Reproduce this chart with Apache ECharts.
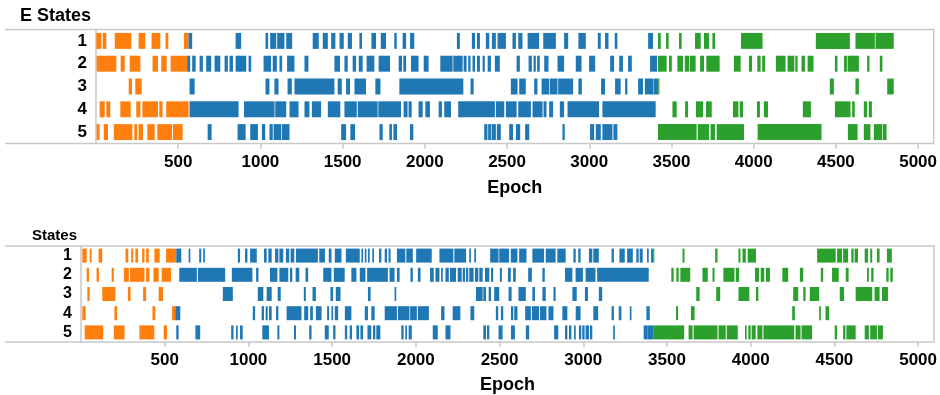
<!DOCTYPE html>
<html>
<head>
<meta charset="utf-8">
<script src="https://cdn.jsdelivr.net/npm/echarts@6/dist/echarts.min.js"></script>
<style>html,body{margin:0;padding:0;background:#fff}#c{width:940px;height:395px}</style>
</head>
<body>
<div id="c"></div>
<script>
// ---- data ----
const stateLabels = ['1', '2', '3', '4', '5'];
const xTickValues = [500, 1000, 1500, 2000, 2500, 3000, 3500, 4000, 4500, 5000];
const epochMax = 5095;

// Top panel "E States": per state, [start, end] epoch segments for each phase
const eOrange = [
  [[2,33],[41,63],[114,215],[259,300],[338,391],[423,440],[535,563]],
  [[4,124],[150,175],[205,270],[344,377],[397,430],[454,555]],
  [[199,219],[239,278]],
  [[22,53],[63,87],[148,211],[245,270],[282,377],[385,405],[427,563]],
  [[4,22],[47,73],[108,221],[233,251],[259,286],[312,357],[373,462],[468,527]]
];
const eBlue = [
  [[563,585],[849,883],[1031,1047],[1059,1096],[1102,1146],[1157,1193],[1318,1355],[1379,1410],[1430,1456],[1481,1507],[1531,1557],[1602,1618],[1675,1703],[1732,1764],[1814,1829],[1865,1886],[1910,1936],[2195,2213],[2286,2305],[2317,2335],[2371,2392],[2408,2432],[2442,2493],[2533,2554],[2568,2594],[2625,2695],[2720,2797],[2847,2872],[2934,2979],[3052,3070],[3096,3117],[3155,3171],[3358,3388]],
  [[555,573],[585,606],[630,650],[670,701],[721,756],[782,802],[812,833],[849,914],[928,944],[1019,1065],[1075,1100],[1116,1132],[1162,1207],[1268,1292],[1450,1484],[1511,1531],[1561,1582],[1598,1622],[1646,1693],[1719,1788],[1841,1861],[1869,1886],[1916,1962],[1993,2023],[2094,2169],[2173,2230],[2236,2254],[2264,2278],[2290,2305],[2317,2335],[2351,2365],[2382,2402],[2426,2456],[2558,2578],[2631,2651],[2661,2675],[2683,2699],[2726,2752],[2807,2847],[2918,2953],[2999,3036],[3127,3151],[3182,3205],[3236,3259],[3370,3412]],
  [[569,600],[1031,1055],[1085,1110],[1165,1191],[1207,1450],[1470,1495],[1521,1545],[1572,1642],[1699,1730],[1845,2234],[2278,2297],[2523,2564],[2574,2614],[2665,2685],[2710,2756],[2760,2807],[2811,2902],[2934,2955],[3072,3096],[3157,3191],[3218,3232],[3297,3327],[3338,3390],[3392,3420]],
  [[569,867],[900,1086],[1090,1157],[1177,1232],[1268,1298],[1313,1369],[1410,1486],[1511,1586],[1592,1713],[1717,1855],[1871,1895],[1901,1920],[1962,1987],[2003,2031],[2084,2104],[2118,2159],[2203,2426],[2432,2483],[2493,2558],[2568,2645],[2655,2716],[2722,2740],[2756,2780],[2821,2847],[2868,3060],[3080,3404]],
  [[679,703],[861,910],[938,985],[1009,1029],[1055,1075],[1080,1126],[1130,1177],[1491,1521],[1547,1576],[1724,1744],[1784,1800],[1809,1831],[1910,1930],[2361,2381],[2385,2402],[2406,2432],[2438,2462],[2513,2537],[2554,2580],[2610,2635],[2837,2851],[3005,3030],[3040,3070],[3080,3141],[3147,3171]]
];
const eGreen = [
  [[3418,3435],[3467,3483],[3546,3562],[3643,3678],[3698,3728],[3749,3765],[3923,4054],[4378,4585],[4619,4737],[4741,4852]],
  [[3418,3471],[3485,3502],[3536,3570],[3581,3607],[3611,3647],[3674,3698],[3712,3793],[3880,3921],[3971,3990],[4022,4042],[4052,4069],[4135,4194],[4206,4247],[4253,4267],[4291,4312],[4328,4364],[4494,4510],[4549,4567],[4571,4640],[4690,4704],[4767,4783]],
  [[3420,3427],[4463,4488],[4619,4640],[4812,4852]],
  [[3506,3532],[3583,3601],[3649,3692],[3710,3745],[3874,3907],[3915,3935],[4020,4038],[4062,4087],[4299,4348],[4494,4589],[4599,4615],[4670,4690],[4700,4719]],
  [[3418,3653],[3660,3728],[3738,3765],[3775,3941],[4024,4413],[4573,4632],[4670,4710],[4731,4781],[4785,4808]]
];

// Bottom panel "States"
const sOrange = [
  [[8,34],[52,63],[105,127],[266,282],[300,312],[325,341],[365,379],[389,405],[438,470],[508,569]],
  [[34,48],[93,107],[183,196],[256,286],[292,379],[389,409],[433,464],[482,538]],
  [[38,52],[127,206],[280,296],[371,389],[464,490]],
  [[8,28],[200,216],[427,444],[544,563]],
  [[22,133],[196,260],[349,438],[494,514]]
];
const sBlue = [
  [[569,599],[643,653],[706,718],[730,740],[937,950],[980,994],[1010,1050],[1093,1109],[1119,1139],[1159,1179],[1185,1208],[1224,1244],[1252,1274],[1284,1415],[1423,1457],[1480,1496],[1516,1556],[1582,1665],[1675,1685],[1695,1705],[1714,1724],[1740,1750],[1780,1794],[1814,1828],[1837,1849],[1887,1937],[1943,1982],[2002,2095],[2141,2224],[2230,2300],[2319,2329],[2349,2359],[2444,2494],[2498,2557],[2567,2607],[2617,2661],[2696,2766],[2776,2835],[2845,2895],[2941,2955],[2970,2984],[3034,3054],[3060,3093],[3169,3183],[3216,3248],[3262,3296],[3317,3331],[3337,3355],[3381,3391],[3405,3419]],
  [[587,692],[698,861],[901,1024],[1046,1060],[1129,1173],[1185,1238],[1248,1262],[1282,1304],[1341,1357],[1447,1496],[1510,1575],[1615,1645],[1665,1699],[1709,1833],[1843,1873],[1887,1903],[1968,1982],[2012,2028],[2085,2107],[2117,2141],[2151,2161],[2177,2197],[2204,2240],[2250,2274],[2280,2294],[2300,2313],[2319,2345],[2353,2373],[2379,2399],[2413,2439],[2449,2462],[2502,2514],[2550,2567],[2581,2597],[2671,2693],[2756,2770],[2891,2935],[2954,2998],[3014,3073],[3083,3391]],
  [[847,907],[1056,1089],[1109,1139],[1175,1193],[1331,1343],[1383,1403],[1490,1506],[1522,1550],[1714,1730],[1873,1883],[2359,2399],[2403,2419],[2435,2449],[2468,2498],[2554,2572],[2613,2657],[2696,2712],[2756,2776],[2822,2835],[2935,2961],[3010,3028],[3093,3113]],
  [[563,593],[1026,1040],[1079,1093],[1103,1115],[1123,1139],[1165,1179],[1228,1317],[1333,1357],[1369,1385],[1403,1437],[1470,1482],[1496,1506],[1516,1536],[1576,1615],[1695,1714],[1734,1754],[1814,1887],[1893,1962],[1966,2006],[2012,2078],[2151,2171],[2220,2266],[2326,2349],[2478,2492],[2508,2522],[2568,2582],[2588,2607],[2653,2687],[2693,2736],[2742,2780],[2792,2822],[2875,2905],[2955,2984],[3060,3089],[3169,3183],[3212,3228],[3278,3288],[3377,3397]],
  [[569,583],[683,712],[897,911],[926,936],[950,966],[1083,1123],[1173,1185],[1272,1284],[1363,1377],[1456,1480],[1506,1520],[1576,1590],[1605,1619],[1645,1661],[1669,1685],[1711,1734],[1744,1758],[1764,1788],[1913,1927],[1937,1947],[1957,1976],[2101,2131],[2177,2207],[2403,2419],[2425,2439],[2494,2518],[2568,2592],[2657,2677],[2826,2851],[2891,2905],[2915,2929],[2945,2955],[2974,2988],[2994,3008],[3014,3034],[3040,3054],[3179,3189],[3361,3385],[3385,3421]]
];
const sGreen = [
  [[3419,3425],[3593,3605],[3788,3802],[3927,3939],[3951,3971],[3982,4032],[4397,4508],[4516,4546],[4552,4582],[4601,4615],[4621,4641],[4681,4701],[4714,4726],[4754,4770],[4814,4843]],
  [[3526,3540],[3556,3570],[3580,3639],[3712,3744],[3772,3784],[3837,3903],[3911,3931],[4026,4050],[4060,4081],[4091,4115],[4189,4224],[4294,4314],[4419,4433],[4486,4526],[4568,4585],[4695,4706],[4720,4734],[4810,4824],[4834,4849]],
  [[3675,3695],[3794,3818],[3927,3992],[4032,4046],[4254,4284],[4314,4328],[4353,4409],[4532,4558],[4627,4726],[4740,4770],[4784,4820]],
  [[3554,3566],[3643,3665],[4248,4264],[4409,4419],[4447,4468]],
  [[3421,3603],[3629,3653],[3659,3802],[3808,3851],[3857,3923],[3966,3976],[3986,4000],[4006,4030],[4040,4070],[4076,4260],[4268,4298],[4304,4367],[4502,4516],[4552,4566],[4572,4627],[4681,4706],[4714,4754],[4760,4790]]
];

// ---- chart ----
const FONT = 'Liberation Sans, Arial, Helvetica, sans-serif';
const COLORS = ['#ff7f0e', '#1f77b4', '#2ca02c'];
const LINE = '#c8c8c8';

function flatten(rows) {
  const out = [];
  rows.forEach((segs, r) => segs.forEach(s => out.push([r, s[0], s[1]])));
  return out;
}
function makeRender(frac) {
  return function (params, api) {
    const r = api.value(0), s = api.value(1), e = api.value(2);
    const p0 = api.coord([s, r]);
    const p1 = api.coord([e, r]);
    const h = api.size([0, 1])[1] * frac;
    return {
      type: 'rect',
      shape: { x: p0[0], y: p0[1] - h / 2, width: Math.max(p1[0] - p0[0], 1), height: h },
      style: { fill: api.visual('color') }
    };
  };
}
const grids = [
  { left: 96, top: 29.5, width: 839, height: 114 },
  { left: 81, top: 246, width: 854, height: 96 }
];
const panels = [[eOrange, eBlue, eGreen], [sOrange, sBlue, sGreen]];
const fracs = [0.7, 0.73];
const nameGaps = [36, 34];

const series = [];
panels.forEach((phases, gi) => {
  phases.forEach((rows, pi) => {
    series.push({
      type: 'custom',
      xAxisIndex: gi, yAxisIndex: gi,
      renderItem: makeRender(fracs[gi]),
      itemStyle: { color: COLORS[pi] },
      encode: { x: [1, 2], y: 0 },
      data: flatten(rows),
      silent: true
    });
  });
});

const chart = echarts.init(document.getElementById('c'), null, { renderer: 'canvas' });
chart.setOption({
  animation: false,
  backgroundColor: '#fff',
  textStyle: { fontFamily: FONT },
  grid: grids.map(g => Object.assign({ show: true, borderColor: LINE, borderWidth: 1.5, backgroundColor: 'transparent' }, g)),
  xAxis: grids.map((g, i) => ({
    type: 'value', gridIndex: i, min: 0, max: epochMax,
    name: 'Epoch', nameLocation: 'middle', nameGap: nameGaps[i],
    nameTextStyle: { fontFamily: FONT, fontWeight: 'bold', fontSize: 18, color: '#000' },
    axisLine: { show: false },
    splitLine: { show: false },
    axisTick: { show: true, length: 5, customValues: xTickValues, lineStyle: { color: LINE, width: 1.5 } },
    axisLabel: { customValues: xTickValues, formatter: v => String(v), fontFamily: FONT, fontWeight: 'bold', fontSize: 17, color: '#000', margin: 10 }
  })),
  yAxis: grids.map((g, i) => ({
    type: 'category', gridIndex: i, data: stateLabels, inverse: true,
    axisLine: { show: false }, axisTick: { show: false }, splitLine: { show: false },
    axisLabel: { interval: 0, fontFamily: FONT, fontWeight: 'bold', fontSize: i === 0 ? 17 : 16, color: '#000', margin: 9 }
  })),
  graphic: [
    { type: 'line', shape: { x1: 5, y1: 29.5, x2: 96, y2: 29.5 }, style: { stroke: LINE, lineWidth: 1.5 } },
    { type: 'line', shape: { x1: 5, y1: 143.5, x2: 96, y2: 143.5 }, style: { stroke: LINE, lineWidth: 1.5 } },
    { type: 'line', shape: { x1: 5, y1: 246, x2: 81, y2: 246 }, style: { stroke: LINE, lineWidth: 1.5 } },
    { type: 'line', shape: { x1: 5, y1: 342, x2: 81, y2: 342 }, style: { stroke: LINE, lineWidth: 1.5 } },
    { type: 'text', left: 20, top: 7, style: { text: 'E States', font: 'bold 18px ' + FONT, fill: '#000' } },
    { type: 'text', left: 32, top: 228, style: { text: 'States', font: 'bold 15px ' + FONT, fill: '#000' } }
  ],
  series: series
});
</script>
</body>
</html>
